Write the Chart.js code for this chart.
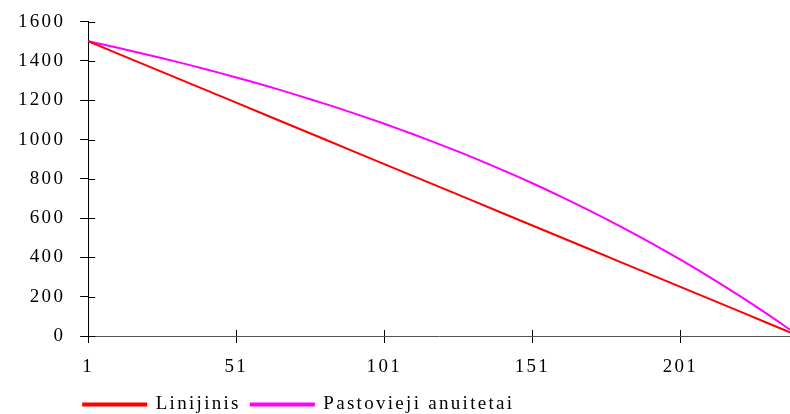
<!DOCTYPE html>
<html>
<head>
<meta charset="utf-8">
<script src="https://cdn.jsdelivr.net/npm/chart.js@4.4.1/dist/chart.umd.min.js"></script>
<style>
  html, body { margin: 0; padding: 0; background: #fff; }
  #wrap { width: 790px; height: 414px; }
</style>
</head>
<body>
<div id="wrap"><canvas id="loanChart"></canvas></div>
<script>
// Months (period numbers) and remaining balance for both repayment schemes
const months = [1, 11, 21, 31, 41, 51, 61, 71, 81, 91, 101, 111, 121, 131, 141, 151, 161, 171, 181, 191, 201, 211, 221, 231, 238];
const linijinis = [1500, 1437.5, 1375, 1312.5, 1250, 1187.5, 1125, 1062.5, 1000, 937.5, 875, 812.5, 750, 687.5, 625, 562.5, 500, 437.5, 375, 312.5, 250, 187.5, 125, 62.5, 18.75];
const anuitetai = [1500, 1466.8, 1431.9, 1395.2, 1356.7, 1316.1, 1273.5, 1228.7, 1181.6, 1132.1, 1080.1, 1025.5, 968.0, 907.6, 844.1, 777.3, 707.2, 633.4, 555.9, 474.4, 388.7, 298.7, 204.1, 104.6, 31.9];
const xTicks = [1, 51, 101, 151, 201];
const yTicks = [0, 200, 400, 600, 800, 1000, 1200, 1400, 1600];

const toPoints = vals => vals.map((v, i) => ({ x: months[i], y: v }));
const family = '"Liberation Serif", "Times New Roman", serif';
const font = { family, size: 19, lineHeight: 1 };
// tighter line box on the value axis so the top label needs less room
const yFont = { family, size: 19, lineHeight: 0.7 };

// Canvas text in the old spreadsheet look: widely spaced letters
const spacedText = {
  id: 'spacedText',
  beforeLayout(chart) { chart.ctx.letterSpacing = '2.3px'; },
  beforeDraw(chart) { chart.ctx.letterSpacing = '2.3px'; },
  afterLayout(chart) {
    // pull the legend a little left of the plot edge
    chart.legend.left -= 15;
    chart.legend.right -= 15;
  }
};

// Tick marks that cross the axis lines (inner half)
const crossTicks = {
  id: 'crossTicks',
  afterDraw(chart) {
    const { ctx, scales: { x, y } } = chart;
    ctx.save();
    ctx.lineWidth = 1;
    ctx.strokeStyle = '#000';
    ctx.beginPath();
    y.ticks.forEach(t => {
      const py = Math.round(y.getPixelForValue(t.value)) + 0.5;
      ctx.moveTo(x.left, py);
      ctx.lineTo(x.left + 7, py);
    });
    x.ticks.forEach(t => {
      const px = Math.round(x.getPixelForValue(t.value)) + 0.5;
      ctx.moveTo(px, y.bottom);
      ctx.lineTo(px, y.bottom - 6);
    });
    ctx.stroke();
    ctx.restore();
  }
};

new Chart(document.getElementById('loanChart'), {
  type: 'line',
  data: {
    datasets: [
      { label: 'Linijinis', data: toPoints(linijinis), borderColor: '#ff0000', backgroundColor: '#ff0000', borderWidth: 2, pointRadius: 0, tension: 0 },
      { label: 'Pastovieji anuitetai', data: toPoints(anuitetai), borderColor: '#ff00ff', backgroundColor: '#ff00ff', borderWidth: 2, pointRadius: 0, tension: 0.3 }
    ]
  },
  options: {
    responsive: true,
    maintainAspectRatio: false,
    animation: false,
    layout: { padding: { top: 0, right: 0, bottom: -10, left: 3 } },
    plugins: {
      tooltip: { enabled: false },
      legend: {
        position: 'bottom',
        align: 'start',
        fullSize: false,
        labels: { boxWidth: 63, boxHeight: 2, padding: 10, color: '#000', font }
      }
    },
    scales: {
      x: {
        type: 'linear',
        min: 1,
        max: 238,
        afterBuildTicks: s => { s.ticks = xTicks.map(v => ({ value: v })); },
        afterFit: s => { s.height -= 6; },
        grid: { drawOnChartArea: false, tickLength: 7, color: '#000' },
        border: { color: '#555', width: 1 },
        ticks: { color: '#000', font, padding: 14.5, maxRotation: 0 }
      },
      y: {
        min: 0,
        max: 1600,
        afterBuildTicks: s => { s.ticks = yTicks.map(v => ({ value: v })); },
        grid: { drawOnChartArea: false, tickLength: 8, color: '#000' },
        border: { color: '#000', width: 1 },
        ticks: { color: '#000', font: yFont, padding: 15, callback: v => String(v) }
      }
    }
  },
  plugins: [spacedText, crossTicks]
});
</script>
</body>
</html>
